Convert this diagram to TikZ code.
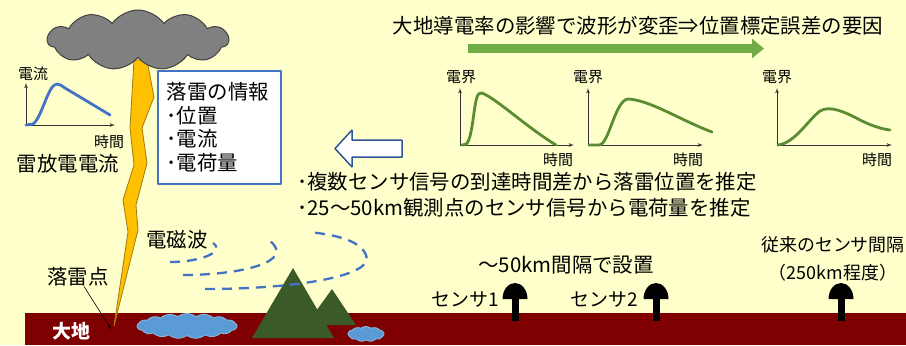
\documentclass[tikz,border=0pt]{standalone}
\usepackage{fontspec}
\setmainfont{Noto Sans CJK JP}
\usetikzlibrary{arrows,arrows.meta,shapes.symbols}

\definecolor{bgcol}{HTML}{FFFFCC}
\definecolor{groundcol}{HTML}{7F0000}
\definecolor{cloudcol}{HTML}{808080}
\definecolor{cloudline}{HTML}{404040}
\definecolor{boltcol}{HTML}{FFC000}
\definecolor{boltline}{HTML}{A07A10}
\definecolor{boxblue}{HTML}{4472C4}
\definecolor{hollowblue}{HTML}{2F5597}
\definecolor{wavecol}{HTML}{4472C4}
\definecolor{fieldcol}{HTML}{5A8C32}
\definecolor{arrowgreen}{HTML}{70AD47}
\definecolor{lakecol}{HTML}{5B9BD5}
\definecolor{mountcol}{HTML}{3A5A28}

\begin{document}
\begin{tikzpicture}[>=latex',line join=bevel,x=1bp,y=-1bp,
  every node/.style={inner sep=0pt},
  jp/.style={font=\fontsize{20.5}{24}\selectfont},
  jpmid/.style={font=\fontsize{19}{22}\selectfont},
  jpsmall/.style={font=\fontsize{18}{22}\selectfont},
  lblsmall/.style={font=\fontsize{15}{15}\selectfont},
  axisline/.style={->,draw=black!80,line width=0.8bp},
  currentline/.style={draw=boxblue,line width=2.8bp,line cap=round},
  pulse/.style={draw=fieldcol,line width=2.8bp,line cap=round},
  wave/.style={draw=wavecol,line width=2.3bp,dash pattern=on 10bp off 7bp},
  lake/.style={cloud,cloud puffs=17,cloud puff arc=75,cloud ignores aspect,
    fill=lakecol,draw=lakecol!70!white,line width=0.8bp},
  mountain/.style={fill=mountcol}]
%%
  % Background and ground
  \fill[bgcol] (0,0) rectangle (906,345);
  \useasboundingbox (0,0) rectangle (906,345);
  \fill[groundcol] (25,313) rectangle (906,345);
  \node[text=white,font=\fontsize{19}{19}\selectfont\bfseries] (earth) at (71,331) {大地};
  % Node: lakes
  \node[lake,minimum width=100bp,minimum height=25bp] (lake1) at (187,326) {};
  \node[lake,cloud puffs=11,minimum width=36bp,minimum height=15bp] (lake2) at (366,334) {};
  % Node: mountains
  \fill[mountain] (306,325) -- (332,289) -- (356,325) -- cycle;
  \fill[mountain] (252,338) -- (293,268) -- (334,338) -- cycle;
  % Edge: waves
  \draw[wave] (170,262) .. controls (200,262) and (226,252) .. (213,243);
  \draw[wave] (183,275) .. controls (240,275) and (296,262) .. (270,241);
  \draw[wave] (205,289) .. controls (300,289) and (376,275) .. (366,255) .. controls (360,240) and (335,235) .. (310,232);
  \node[jp] (emwave) at (177,240) {電磁波};
  % Node: lightning bolt
  \filldraw[fill=boltcol,draw=boltline,line width=0.8bp]
    (134,60) -- (147,60) -- (154,97) -- (142,128) -- (147,163) -- (136,205)
    -- (138,230) -- (114,326) -- (128,232) -- (123,200) -- (134,165)
    -- (130,128) -- cycle;
  % Node: thundercloud
  \node[cloud,cloud puffs=11,cloud puff arc=110,cloud ignores aspect,
    minimum width=181bp,minimum height=60bp,fill=cloudcol,draw=cloudline,
    line width=1bp] (thundercloud) at (138,40) {};
  % Edge: strike label -> strike point
  \node[jp] (strikelbl) at (78,277) {落雷点};
  \coordinate (strike) at (111,329);
  \draw[->,line width=0.6bp] (strikelbl) -- (strike);
%
  % Lightning current waveform
  \coordinate (io) at (26,125);
  \coordinate (iy) at (26,83);
  \coordinate (ix) at (115,125);
  \draw[axisline] (io) -- (iy);
  \draw[axisline] (io) -- (ix);
  \draw[currentline] (io) -- (33,124) .. controls (42,118) and (48,84) .. (57,84)
    .. controls (60,84) and (62,86) .. (65,88) -- (110,115);
  \node[lblsmall] (ilbl) at (33,74) {電流};
  \node[lblsmall] (itlbl) at (109,142) {時間};
  \node[jp] (icap) at (68,164) {雷放電電流};
  % Node: info box
  \node[draw=boxblue,line width=1.5bp,fill=white,anchor=north west,
    text width=105bp,minimum height=113bp,inner xsep=9bp,inner ysep=7bp,
    align=left,jp] (info) at (157,70) {落雷の情報\\･位置\\･電流\\･電荷量};
  % Node: hollow arrow
  \filldraw[fill=white,draw=hollowblue,line width=1.5bp]
    (335,148.5) -- (352,130) -- (352,140) -- (402,140) -- (402,157)
    -- (352,157) -- (352,167) -- cycle;
  \node[jp,anchor=west] (bullet1) at (297,182) {･複数センサ信号の到達時間差から落雷位置を推定};
  \node[jp,anchor=west] (bullet2) at (297,208) {･25～50km観測点のセンサ信号から電荷量を推定};
%
  % Edge: distortion arrow
  \node[jp] (distort) at (638,26) {大地導電率の影響で波形が変歪⇒位置標定誤差の要因};
  \coordinate (gs) at (468,48.5);
  \coordinate (ge) at (764,48.5);
  \draw[draw=arrowgreen,line width=9bp,-{Triangle[length=12bp,width=19bp]}] (gs) -- (ge);
  % Field waveform 1
  \coordinate (ao) at (460,145);
  \coordinate (ay) at (460,88);
  \coordinate (ax) at (574,145);
  \draw[axisline] (ao) -- (ay);
  \draw[axisline] (ao) -- (ax);
  \draw[pulse] (462,145) .. controls (468,146) and (470,140) .. (473,120)
    .. controls (476,98) and (477,92) .. (482,93)
    .. controls (497,99) and (525,126) .. (556,145);
  \node[lblsmall] (albl) at (461,77) {電界};
  \node[lblsmall] (atlbl) at (558,160) {時間};
  % Field waveform 2
  \coordinate (bo) at (588,145);
  \coordinate (by) at (588,88);
  \coordinate (bx) at (703,145);
  \draw[axisline] (bo) -- (by);
  \draw[axisline] (bo) -- (bx);
  \draw[pulse] (589,145) -- (599,145) .. controls (609,145) and (615,100) .. (628,99)
    .. controls (650,100) and (680,120) .. (712,132);
  \node[lblsmall] (blbl) at (588,77) {電界};
  \node[lblsmall] (btlbl) at (688,160) {時間};
  % Field waveform 3
  \coordinate (co) at (777,145);
  \coordinate (cy) at (777,88);
  \coordinate (cx) at (892,145);
  \draw[axisline] (co) -- (cy);
  \draw[axisline] (co) -- (cx);
  \draw[pulse] (778,145) .. controls (795,143) and (808,120) .. (820,111)
    .. controls (830,105) and (845,112) .. (860,120)
    .. controls (872,126) and (882,129) .. (890,130);
  \node[lblsmall] (clbl) at (777,77) {電界};
  \node[lblsmall] (ctlbl) at (877,160) {時間};
%
  % Node: sensors
  \fill[black] (502.5,299) arc[start angle=180,end angle=360,x radius=12.5,y radius=16] -- cycle;
  \fill[black] (511.5,297) rectangle (518.5,321);
  \fill[black] (643.5,299) arc[start angle=180,end angle=360,x radius=12.5,y radius=16] -- cycle;
  \fill[black] (652.5,297) rectangle (659.5,321);
  \fill[black] (828.5,299) arc[start angle=180,end angle=360,x radius=12.5,y radius=16] -- cycle;
  \fill[black] (837.5,297) rectangle (844.5,321);
  \node[jpmid] (s1lbl) at (465,300) {センサ1};
  \node[jpmid] (s2lbl) at (604,300) {センサ2};
  \node[jp] (spacing) at (566,265) {～50km間隔で設置};
  \node[jpsmall] (oldsp) at (833,245) {従来のセンサ間隔};
  \node[jpsmall] (oldkm) at (833,273) {（250km程度）};
%
\end{tikzpicture}
\end{document}
